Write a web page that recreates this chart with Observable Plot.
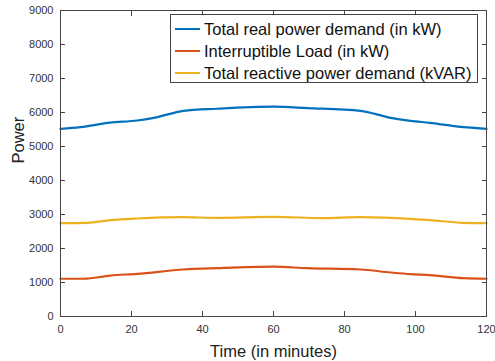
<!DOCTYPE html>
<html><head><meta charset="utf-8">
<script src="https://cdn.jsdelivr.net/npm/d3@7"></script>
<script src="https://cdn.jsdelivr.net/npm/@observablehq/plot@0.6"></script>
<style>
body{margin:0;background:#fff;font-family:"Liberation Sans",Arial,sans-serif;}
#wrap{position:relative;width:495px;height:361px;}
#legend{position:absolute;left:170px;top:14px;width:308px;height:69px;border:1px solid #444;background:#fff;box-sizing:border-box;font-size:16.5px;color:#111;}
.row{position:absolute;left:4px;height:22px;display:flex;align-items:center;white-space:nowrap;}
.sw{width:25px;height:2px;margin-right:4px;}
</style></head>
<body><div id="wrap"><div id="legend"></div></div>
<script>
const series = ["Total real power demand (in kW)", "Interruptible Load (in kW)", "Total reactive power demand (kVAR)"];
const colors = ["#0072BD", "#D95319", "#EDB120"];
const realX = [0, 5.6, 14, 21.6, 26.3, 34.7, 44, 60, 69.5, 84.5, 93, 98.6, 104, 114.6, 120];
const realY = [5520, 5570, 5700, 5765, 5843, 6050, 6110, 6170, 6130, 6050, 5843, 5755, 5697, 5560, 5520];
const interX = [0, 6.6, 14, 21.6, 34.7, 44, 60, 69.5, 84.5, 93, 98.6, 104, 113.5, 120];
const interY = [1110, 1110, 1205, 1255, 1382, 1422, 1465, 1422, 1382, 1294, 1245, 1216, 1127, 1110];
const reactX = [0, 7.5, 14, 21.6, 34.3, 44, 60, 74, 84.5, 98.6, 104, 113.5, 120];
const reactY = [2745, 2755, 2833, 2882, 2921, 2902, 2931, 2892, 2921, 2872, 2833, 2755, 2745];
const xTicks = [0, 20, 40, 60, 80, 100, 120];
const yTicks = [0, 1000, 2000, 3000, 4000, 5000, 6000, 7000, 8000, 9000];

const toRows = (xs, ys, s) => xs.map((x, i) => ({x, y: ys[i], s}));
const data = [
  ...toRows(realX, realY, series[0]),
  ...toRows(interX, interY, series[1]),
  ...toRows(reactX, reactY, series[2])
];

const ax = "#444";
const lab = "#333";
const blank = () => "";
const chart = Plot.plot({
  width: 495, height: 361,
  marginLeft: 60, marginRight: 9, marginTop: 10, marginBottom: 45,
  style: {fontFamily: "Liberation Sans, Arial, sans-serif", fontSize: "11px", color: lab, background: "#fff"},
  x: {domain: [0, 120]},
  y: {domain: [0, 9000]},
  color: {domain: series, range: colors},
  marks: [
    Plot.line(data, {x: "x", y: "y", z: "s", stroke: "s", strokeWidth: 2.2, curve: "monotone-x"}),
    Plot.frame({stroke: ax, strokeWidth: 1}),
    Plot.axisX(xTicks, {anchor: "bottom", tickSize: -5, tickPadding: 14, stroke: ax, fill: lab, label: null, fontSize: 11}),
    Plot.axisX(xTicks, {anchor: "top", tickSize: -5, tickFormat: blank, stroke: ax, label: null}),
    Plot.axisY(yTicks, {anchor: "left", tickSize: -5, tickPadding: 12, stroke: ax, fill: lab, label: null, fontSize: 11, tickFormat: d => String(d)}),
    Plot.axisY(yTicks, {anchor: "right", tickSize: -5, tickFormat: blank, stroke: ax, label: null}),
    Plot.text(["Time (in minutes)"], {frameAnchor: "bottom", dy: 40, fontSize: 16.5, fill: "#222"}),
    Plot.text(["Power"], {frameAnchor: "left", dx: -42, rotate: -90, fontSize: 16.5, fill: "#222"})
  ]
});
document.getElementById("wrap").prepend(chart);
const leg = document.getElementById("legend");
series.forEach((s, i) => {
  const r = document.createElement("div");
  r.className = "row";
  r.style.top = (3 + i * 22) + "px";
  r.innerHTML = `<div class="sw" style="background:${colors[i]}"></div><span>${s}</span>`;
  leg.appendChild(r);
});
</script></body></html>
